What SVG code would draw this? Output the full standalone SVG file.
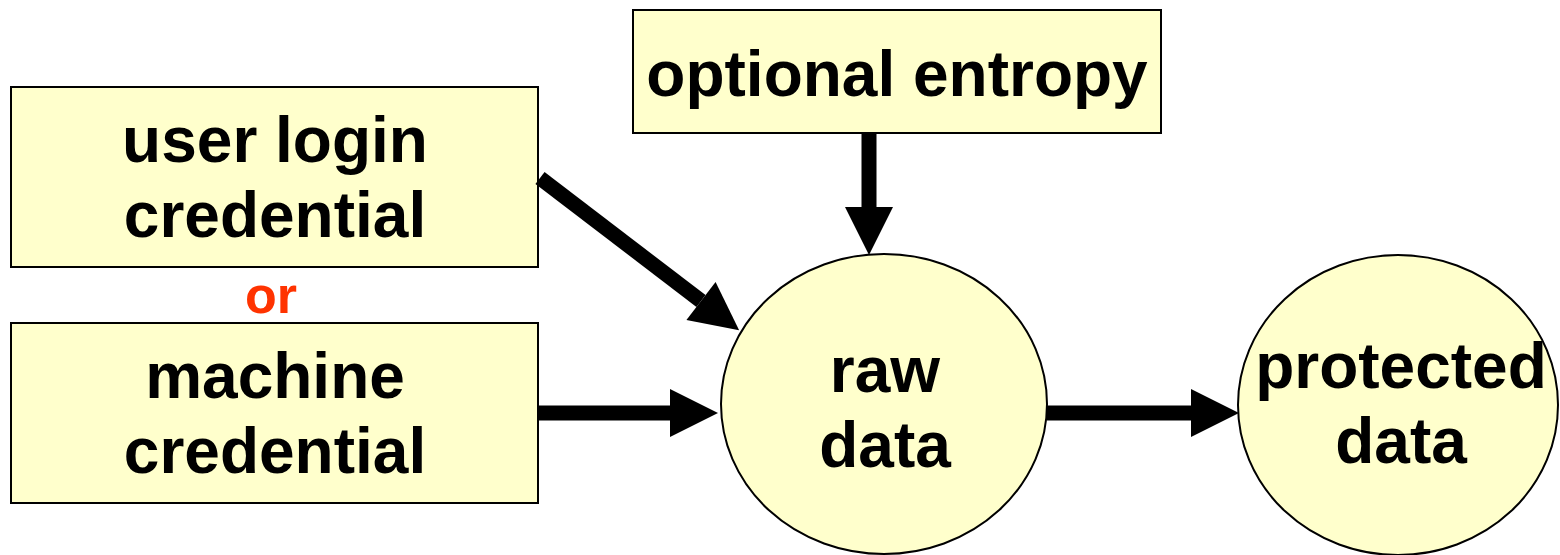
<svg xmlns="http://www.w3.org/2000/svg" width="1560" height="555" viewBox="0 0 1560 555">
  <style>
    .box { fill: #FFFFCC; stroke: #000; stroke-width: 2; }
    .lbl { font-family: "Liberation Sans", Arial, sans-serif; font-weight: bold; font-size: 64px; fill: #000; text-anchor: middle; }
    .or { font-family: "Liberation Sans", Arial, sans-serif; font-weight: bold; font-size: 52px; fill: #FF3300; text-anchor: middle; }
    .shaft { stroke: #000; stroke-width: 15; fill: none; marker-end: url(#head); }
  </style>
  <defs>
    <marker id="head" markerUnits="userSpaceOnUse" markerWidth="48" markerHeight="48" refX="0" refY="24" orient="auto" overflow="visible">
      <path d="M0,0 L48,24 L0,48 Z" fill="#000"/>
    </marker>
  </defs>

  <rect width="1560" height="555" fill="#fff"/>

  <g id="user-login">
    <rect class="box" x="11" y="87" width="527" height="180"/>
    <text class="lbl" x="275" y="162">user login</text>
    <text class="lbl" x="275" y="237">credential</text>
  </g>

  <g id="or-label">
    <text class="or" x="271" y="313">or</text>
  </g>

  <g id="machine">
    <rect class="box" x="11" y="323" width="527" height="180"/>
    <text class="lbl" x="275" y="398">machine</text>
    <text class="lbl" x="275" y="473">credential</text>
  </g>

  <g id="entropy">
    <rect class="box" x="633" y="10" width="528" height="123"/>
    <text class="lbl" x="897" y="96">optional entropy</text>
  </g>

  <g id="raw-data">
    <ellipse class="box" cx="884" cy="404" rx="163" ry="150"/>
    <text class="lbl" x="885" y="392">raw</text>
    <text class="lbl" x="885" y="467">data</text>
  </g>

  <g id="protected-data">
    <ellipse class="box" cx="1398" cy="405" rx="160" ry="150"/>
    <text class="lbl" x="1401" y="388">protected</text>
    <text class="lbl" x="1401" y="463">data</text>
  </g>

  <g id="connectors">
    <line class="shaft" x1="540" y1="178" x2="701" y2="301"/>
    <line class="shaft" x1="538" y1="413" x2="670" y2="413"/>
    <line class="shaft" x1="869" y1="133" x2="869" y2="207"/>
    <line class="shaft" x1="1047" y1="413" x2="1191" y2="413"/>
  </g>
</svg>
